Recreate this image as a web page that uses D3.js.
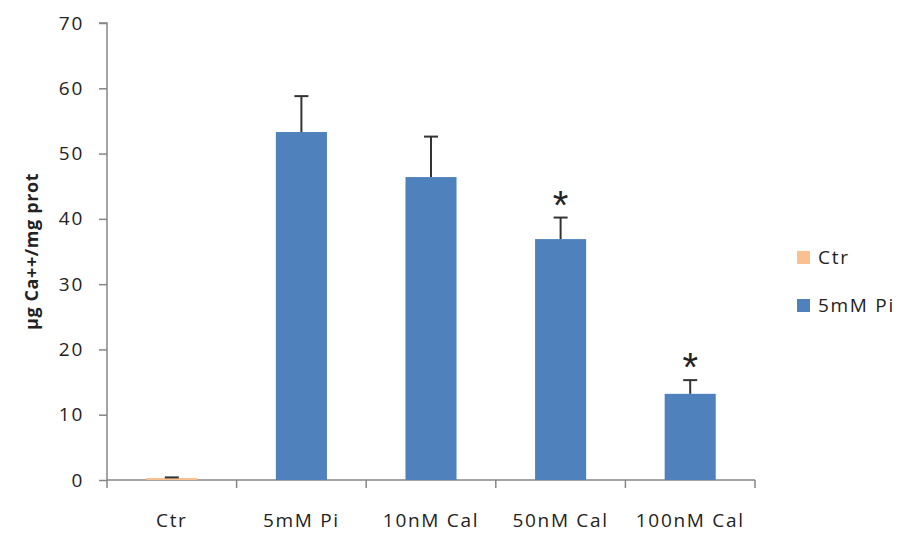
<!DOCTYPE html>
<html>
<head>
<meta charset="utf-8">
<script src="https://cdn.jsdelivr.net/npm/d3@7"></script>
<style>
  html, body { margin: 0; padding: 0; background: #fff; }
  svg { display: block; }
  text { font-family: "Open Sans", "Liberation Sans", sans-serif; fill: #222; }
</style>
</head>
<body>
<svg id="chart" width="903" height="534"></svg>
<script>
// Calcium content per condition (µg Ca++/mg protein), mean and SD
const categories = ["Ctr", "5mM Pi", "10nM Cal", "50nM Cal", "100nM Cal"];
const series = ["Ctr", "5mM Pi", "5mM Pi", "5mM Pi", "5mM Pi"];
const values = [0.3, 53.3, 46.4, 36.9, 13.2];
const errors = [0.1, 5.5, 6.2, 3.3, 2.1];
const significant = [false, false, false, true, true];
const yTicks = [0, 10, 20, 30, 40, 50, 60, 70];
const legendItems = ["Ctr", "5mM Pi"];

const colors = { "Ctr": "#FAC090", "5mM Pi": "#4F81BD" };
const axisColor = "#868686";
const labelSize = 19;
const labelSpacing = "1.7px";

const svg = d3.select("#chart");
const margin = { left: 107, right: 148, top: 23, bottom: 54 };
const W = 903, H = 534;

const x = d3.scaleBand()
  .domain(categories)
  .range([margin.left, W - margin.right])
  .paddingInner(0.606)
  .paddingOuter(0.303);

const y = d3.scaleLinear()
  .domain([0, 70])
  .range([H - margin.bottom, margin.top]);

// Y axis
const yAxis = svg.append("g")
  .attr("transform", `translate(${margin.left},0)`)
  .call(d3.axisLeft(y).tickValues(yTicks).tickSize(8).tickPadding(15));
yAxis.select(".domain").attr("stroke", axisColor).attr("stroke-width", 1.5)
  .attr("d", `M-8,${y(70)}H0V${y(0)}`);
yAxis.selectAll(".tick line").attr("stroke", axisColor).attr("stroke-width", 1.5);
yAxis.selectAll(".tick text")
  .attr("font-size", labelSize)
  .attr("fill", "#2a2a2a")
  .style("letter-spacing", labelSpacing)
  .style("font-family", "'Open Sans', sans-serif");

// X axis with ticks at category boundaries
const x0 = margin.left, x1 = W - margin.right;
const xAxisG = svg.append("g");
xAxisG.append("line")
  .attr("x1", x0).attr("x2", x1)
  .attr("y1", y(0)).attr("y2", y(0))
  .attr("stroke", axisColor).attr("stroke-width", 1.5);
const boundaries = d3.range(categories.length + 1).map(i => x0 + i * (x1 - x0) / categories.length);
xAxisG.selectAll("line.tick").data(boundaries).join("line")
  .attr("class", "tick")
  .attr("x1", d => d).attr("x2", d => d)
  .attr("y1", y(0)).attr("y2", y(0) + 8)
  .attr("stroke", axisColor).attr("stroke-width", 1.5);
xAxisG.selectAll("text").data(categories).join("text")
  .attr("x", d => x(d) + x.bandwidth() / 2)
  .attr("y", y(0) + 47)
  .attr("text-anchor", "middle")
  .attr("font-size", labelSize)
  .style("letter-spacing", labelSpacing)
  .attr("fill", "#2a2a2a")
  .text(d => d);

// Bars
svg.append("g").selectAll("rect").data(categories).join("rect")
  .attr("x", d => x(d))
  .attr("width", x.bandwidth())
  .attr("y", (d, i) => y(values[i]))
  .attr("height", (d, i) => y(0) - y(values[i]))
  .attr("fill", (d, i) => colors[series[i]]);

// Error bars (upper only)
const eb = svg.append("g").attr("stroke", "#333").attr("stroke-width", 2);
categories.forEach((c, i) => {
  const cx = x(c) + x.bandwidth() / 2;
  const top = y(values[i] + errors[i]);
  eb.append("line").attr("x1", cx).attr("x2", cx)
    .attr("y1", y(values[i])).attr("y2", top);
  eb.append("line").attr("x1", cx - 7).attr("x2", cx + 7)
    .attr("y1", top).attr("y2", top);
});

// Significance markers
svg.append("g").selectAll("text").data(categories.filter((c, i) => significant[i])).join("text")
  .attr("x", d => x(d) + x.bandwidth() / 2)
  .attr("y", d => { const i = categories.indexOf(d); return y(values[i] + errors[i]) + 1; })
  .attr("text-anchor", "middle")
  .attr("font-size", 40)
  .attr("fill", "#222")
  .style("font-family", "'Liberation Sans', sans-serif")
  .text("*");

// Y axis title
svg.append("text")
  .attr("transform", `translate(38,${(y(0) + y(70)) / 2}) rotate(-90)`)
  .attr("text-anchor", "middle")
  .attr("font-size", 18)
  .attr("font-weight", "bold")
  .style("letter-spacing", "0.6px")
  .attr("fill", "#111")
  .text("µg Ca++/mg prot");

// Legend
const legend = svg.append("g");
legendItems.forEach((name, i) => {
  const ly = 257 + i * 48;
  legend.append("rect")
    .attr("x", 797).attr("y", ly - 6)
    .attr("width", 13).attr("height", 13)
    .attr("fill", colors[name]);
  legend.append("text")
    .attr("x", 818).attr("y", ly + 7)
    .attr("font-size", labelSize)
    .style("letter-spacing", labelSpacing)
    .attr("fill", "#222")
    .text(name);
});
</script>
</body>
</html>
